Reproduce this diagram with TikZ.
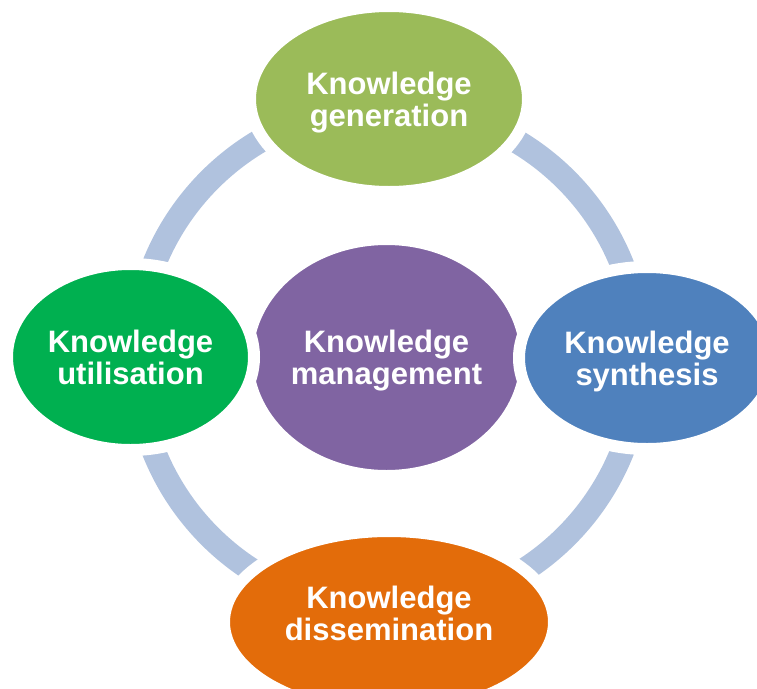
\documentclass[tikz,border=0pt]{standalone}
\usepackage{fontspec}
\setmainfont{Liberation Sans}
\usetikzlibrary{shapes.geometric}
\definecolor{ringc}{HTML}{B0C2DE}
\definecolor{kgen}{HTML}{9BBB59}
\definecolor{kman}{HTML}{8064A2}
\definecolor{ksyn}{HTML}{4F81BD}
\definecolor{kuti}{HTML}{00B050}
\definecolor{kdis}{HTML}{E36C0A}
\begin{document}
\begin{tikzpicture}[x=1pt,y=-1pt,
  bubble/.style={ellipse, draw=white, line width=12pt, inner sep=0pt, outer sep=0pt,
    text=white, align=center, font=\fontsize{31}{32}\selectfont\bfseries, text depth=0pt}]
\useasboundingbox (0,0) rectangle (757,688);
\clip (0,0) rectangle (757,688);
\coordinate (hub) at (388,358);
\draw[ringc, line width=24pt] (hub) circle[radius=252];
\node[bubble, fill=kman, minimum width=279pt, minimum height=237pt] (man) at (386.5,357.5) {Knowledge\\management};
\node[bubble, fill=kgen, minimum width=278pt, minimum height=186pt] (gen) at (389,99) {Knowledge\\generation};
\node[bubble, fill=ksyn, minimum width=256pt, minimum height=182pt] (syn) at (647,358) {Knowledge\\synthesis};
\node[bubble, fill=kdis, minimum width=330pt, minimum height=182pt, text depth=18pt] (dis) at (389,622) {Knowledge\\dissemination};
\node[bubble, fill=kuti, minimum width=247pt, minimum height=186pt] (uti) at (130.5,357) {Knowledge\\utilisation};
\end{tikzpicture}
\end{document}
